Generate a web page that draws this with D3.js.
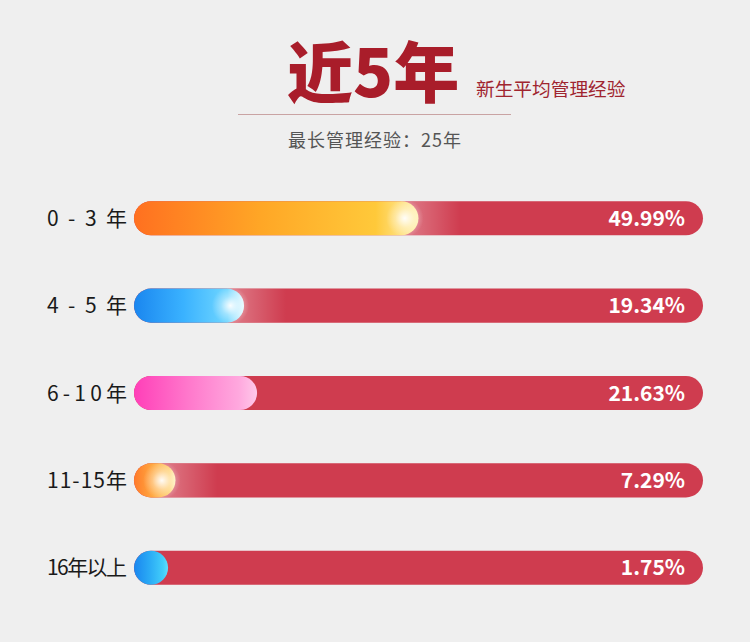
<!DOCTYPE html>
<html><head><meta charset="utf-8">
<script src="https://cdn.jsdelivr.net/npm/d3@7"></script>
<style>body{margin:0;background:#efefef;}svg{display:block;}</style>
</head><body>
<script>
const categories = ["0 - 3 年", "4 - 5 年", "6-10年", "11-15年", "16年以上"];
const values = [49.99, 19.34, 21.63, 7.29, 1.75];
const valueLabels = ["49.99%", "19.34%", "21.63%", "7.29%", "1.75%"];
const fillStops = [
  ["#ff7020", "#ffa726", "#ffc93a", "#fff1b0"],
  ["#1a86ef", "#3ab2ff", "#6fd6ff", "#e8fbff"],
  ["#ff3fb8", "#ff79cc", "#ffa8de", "#ffc8ea"],
  ["#ff7a2a", "#ffa840", "#ffd070", "#fff2c0"],
  ["#1a86ef", "#2aaaf5", "#42cdfa", "#60ddff"]
];
const glows = [true, true, false, true, false];

const W = 750, H = 642;
const svg = d3.select("body").append("svg").attr("width", W).attr("height", H);
svg.append("rect").attr("width", W).attr("height", H).attr("fill", "#efefef");
const defs = svg.append("defs");

// header
svg.append("text").attr("x", 287).attr("y", 97).text("近5年")
  .attr("font-family", "Noto Sans CJK SC").attr("font-weight", 900).attr("font-size", 66)
  .attr("fill", "#a91d2a");
svg.append("text").attr("x", 476).attr("y", 96).text("新生平均管理经验")
  .attr("font-family", "Noto Sans CJK SC").attr("font-size", 18.7).attr("fill", "#a0252f");
svg.append("line").attr("x1", 238).attr("x2", 511).attr("y1", 114.5).attr("y2", 114.5)
  .attr("stroke", "#c9a3a3").attr("stroke-width", 1.2);
svg.append("text").attr("x", 288).attr("y", 147).text("最长管理经验：25年")
  .attr("font-family", "Noto Sans CJK SC").attr("font-size", 18).attr("fill", "#555")
  .attr("textLength", 173).attr("lengthAdjust", "spacing");

const x = d3.scaleLinear().domain([0, 100]).range([134, 703]);
const y = d3.scaleBand().domain(categories).range([175, 611]).paddingInner(0.61).paddingOuter(0.3);
const bh = y.bandwidth();

const rows = svg.selectAll("g.row").data(categories).join("g").attr("class", "row")
  .attr("transform", d => `translate(0,${y(d)})`);

rows.each(function(cat, i) {
  const g = d3.select(this);
  const x0 = x(0), x1 = x(100);
  const fw = Math.max(x(values[i]) - x0, bh);
  const cid = "clip" + i;
  defs.append("clipPath").attr("id", cid).append("rect")
    .attr("x", x0).attr("y", 0).attr("width", x1 - x0).attr("height", bh).attr("rx", bh / 2);
  // background bar
  g.append("rect").attr("x", x0).attr("y", 0).attr("width", x1 - x0).attr("height", bh)
    .attr("rx", bh / 2).attr("fill", "#cf3c4f");
  const cg = g.append("g").attr("clip-path", `url(#${cid})`);
  if (glows[i]) {
    const hid = "halo" + i;
    const hg = defs.append("linearGradient").attr("id", hid);
    hg.append("stop").attr("offset", 0).attr("stop-color", "#fff").attr("stop-opacity", 0.35);
    hg.append("stop").attr("offset", 1).attr("stop-color", "#fff").attr("stop-opacity", 0);
    cg.append("rect").attr("x", x0 + fw - bh / 2).attr("y", 0).attr("width", bh / 2 + 42).attr("height", bh)
      .attr("fill", `url(#${hid})`);
  }
  // fill
  const gid = "fill" + i;
  const lg = defs.append("linearGradient").attr("id", gid);
  const st = fillStops[i];
  lg.append("stop").attr("offset", 0).attr("stop-color", st[0]);
  lg.append("stop").attr("offset", 0.45).attr("stop-color", st[1]);
  lg.append("stop").attr("offset", 0.85).attr("stop-color", st[2]);
  lg.append("stop").attr("offset", 1).attr("stop-color", st[3]);
  g.append("rect").attr("x", x0).attr("y", 0).attr("width", fw).attr("height", bh)
    .attr("rx", bh / 2).attr("fill", `url(#${gid})`);
  if (glows[i]) {
    const rid = "glow" + i;
    const rg = defs.append("radialGradient").attr("id", rid);
    rg.append("stop").attr("offset", 0).attr("stop-color", "#fff").attr("stop-opacity", 0.95);
    rg.append("stop").attr("offset", 0.5).attr("stop-color", "#fff").attr("stop-opacity", 0.35);
    rg.append("stop").attr("offset", 1).attr("stop-color", "#fff").attr("stop-opacity", 0);
    g.append("circle").attr("cx", x0 + fw - bh * 0.4).attr("cy", bh / 2).attr("r", bh * 0.55)
      .attr("fill", `url(#${rid})`).attr("clip-path", `url(#${cid})`);
  }
  // labels
  g.append("text").attr("x", 47).attr("y", bh / 2).attr("dy", "0.36em")
    .text(cat).attr("font-family", "Noto Sans CJK SC").attr("font-size", 21).attr("fill", "#1a1a1a")
    .attr("textLength", 80).attr("lengthAdjust", "spacing");
  g.append("text").attr("x", 685).attr("y", bh / 2).attr("dy", "0.36em").attr("text-anchor", "end")
    .text(valueLabels[i]).attr("font-family", "Noto Sans CJK SC").attr("font-weight", 700)
    .attr("font-size", 21).attr("fill", "#fff");
});
</script>
</body></html>
